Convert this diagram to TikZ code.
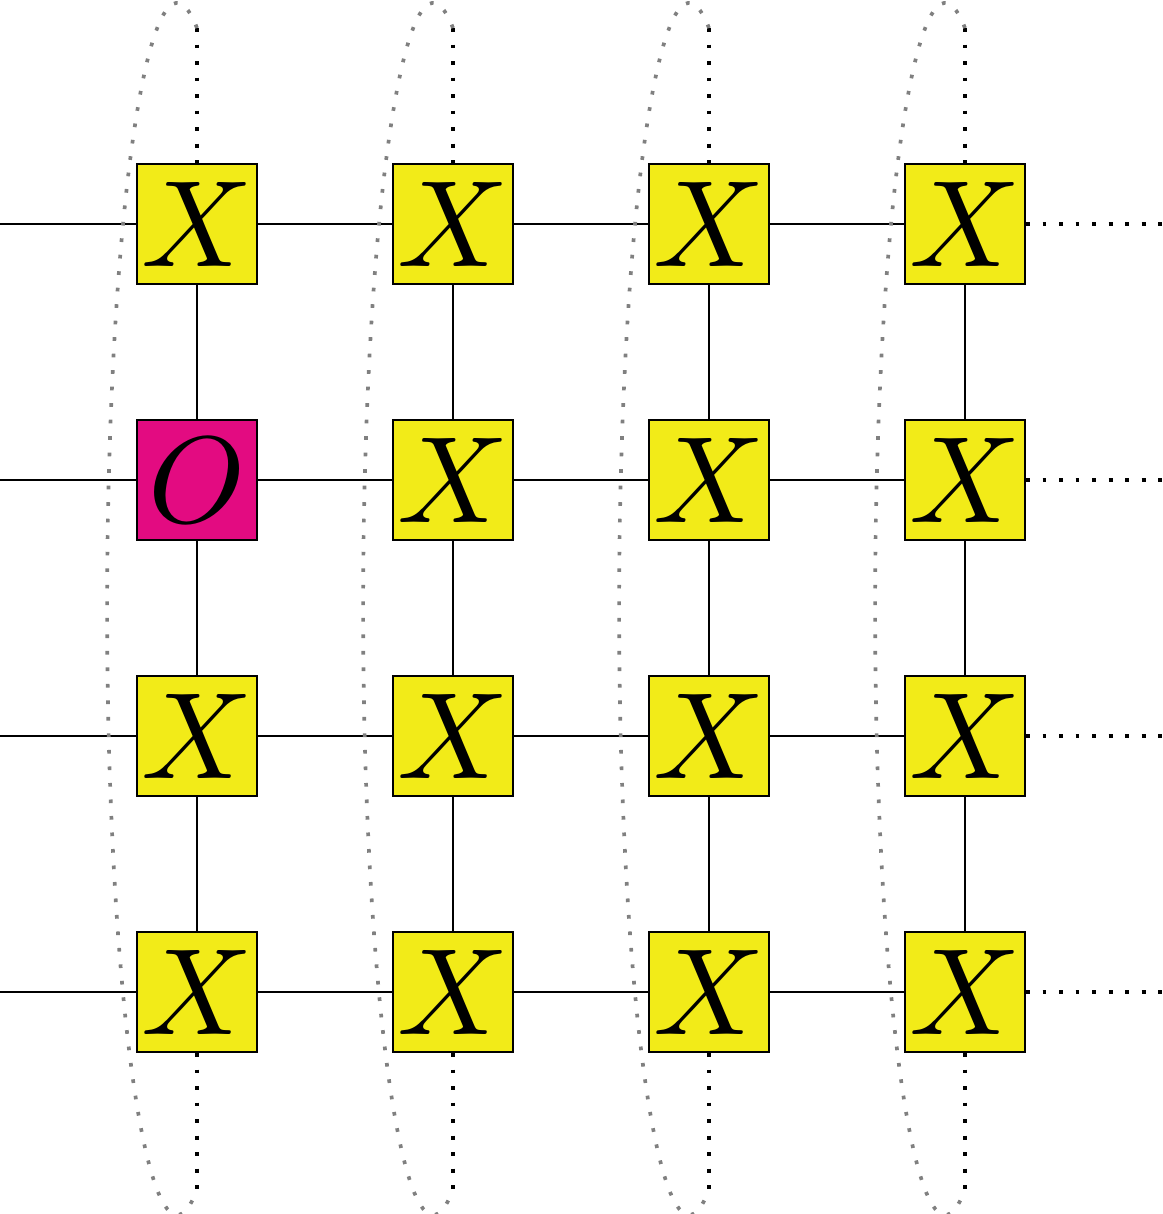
\documentclass[tikz,border=0pt]{standalone}
\definecolor{boxyellow}{RGB}{242,235,24}
\definecolor{boxmagenta}{RGB}{227,11,129}
\newcommand{\bigsym}[1]{\scalebox{3.5}{$#1$}}
\begin{document}
\begin{tikzpicture}[
  tile/.style={draw=black, line width=0.6pt, minimum size=1.2cm, inner sep=0pt, fill=boxyellow},
  wire/.style={line width=0.6pt},
  dotwire/.style={line width=1.1pt, dash pattern=on 1.1pt off 3.6pt},
  looppath/.style={gray, line width=1.05pt, dash pattern=on 1.05pt off 3.65pt},
]
\useasboundingbox (0,0) rectangle (11.63,-12.14);
\foreach \c/\x in {1/1.97,2/4.53,3/7.09,4/9.65} {
  \coordinate (t\c) at (\x,-0.28);
  \coordinate (u\c) at (\x,-11.89);
  \foreach \r/\y in {1/-2.24,2/-4.80,3/-7.36,4/-9.92} {
    \ifnum\c\r=12
      \node[tile, fill=boxmagenta] (b\c\r) at (\x,\y) {\bigsym{O}};
    \else
      \node[tile] (b\c\r) at (\x,\y) {\bigsym{X}};
    \fi
  }
}
\foreach \r/\y in {1/-2.24,2/-4.80,3/-7.36,4/-9.92} {
  \coordinate (l\r) at (0,\y);
  \coordinate (e\r) at (11.63,\y);
  \draw[wire] (l\r) -- (b1\r);
  \draw[wire] (b1\r) -- (b2\r);
  \draw[wire] (b2\r) -- (b3\r);
  \draw[wire] (b3\r) -- (b4\r);
  \draw[dotwire] (b4\r) -- (e\r);
}
\foreach \c in {1,2,3,4} {
  \draw[dotwire] (t\c) -- (b\c1);
  \draw[wire] (b\c1) -- (b\c2);
  \draw[wire] (b\c2) -- (b\c3);
  \draw[wire] (b\c3) -- (b\c4);
  \draw[dotwire] (b\c4) -- (u\c);
  \draw[looppath] (t\c) arc[start angle=73.5, end angle=286.5, x radius=0.70, y radius=6.06];
}
\end{tikzpicture}
\end{document}
